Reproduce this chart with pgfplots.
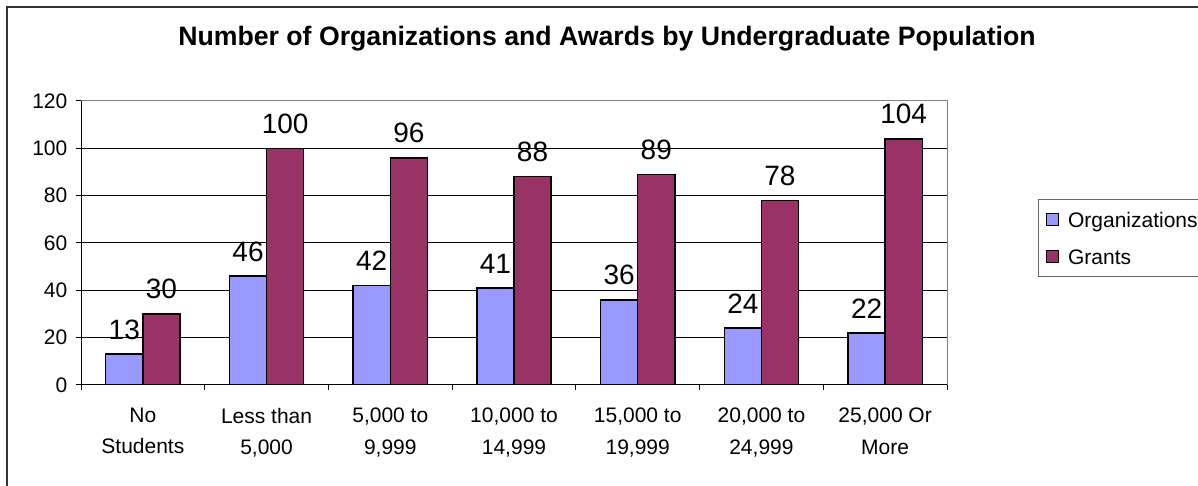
\documentclass[border=0pt]{standalone}
\usepackage{fontspec}
\setmainfont{Liberation Sans}
\usepackage{pgfplots}
\pgfplotsset{compat=1.18}
\definecolor{orgblue}{HTML}{9999FF}
\definecolor{grantred}{HTML}{993366}
\definecolor{frame}{HTML}{808080}

% 1 px of the reference = 0.75pt
\pgfplotsset{
  sqlegend/.style={legend image code/.code={
      \draw[##1, line width=0.75pt] (0pt,-4.5pt) rectangle (9pt,4.5pt);}},
}

\begin{document}
\begin{tikzpicture}
\useasboundingbox (0,0) rectangle (898.5pt,363.75pt);
\clip (0,0) rectangle (898.5pt,363.75pt);
\fill[white] (0,0) rectangle (898.5pt,363.75pt);
% outer chart frame (right and bottom edges fall outside the picture)
\draw[black!80, line width=1.2pt] (5.25pt,-20pt) -- (5.25pt,358.5pt) -- (920pt,358.5pt);

\node[anchor=base, font=\fontsize{20}{24}\selectfont\bfseries]
  at (455.25pt,329.25pt) {Number of Organizations and Awards by Undergraduate Population};

\begin{axis}[
  at={(60.75pt,75pt)}, anchor=south west,
  scale only axis, width=649.5pt, height=213pt,
  /pgf/number format/assume math mode=true,
  ybar, bar width=0.3,
  xmin=-0.5, xmax=6.5, ymin=0, ymax=120,
  ytick={0,20,...,120},
  xtick={-0.5,0.5,...,6.5},
  x tick label as interval,
  xticklabels={{No\\Students},{Less than\\5,000},{5,000 to\\9,999},
    {10,000 to\\14,999},{15,000 to\\19,999},{20,000 to\\24,999},{25,000 Or\\More}},
  xticklabel style={align=center, font=\fontsize{15.75}{23.5}\selectfont, yshift=-10pt},
  yticklabel style={font=\fontsize{15.75}{19}\selectfont, xshift=-3pt},
  xtick pos=bottom, ytick pos=left,
  tick align=outside, major tick length=3.75pt,
  tick style={black, line width=0.75pt},
  ymajorgrids, grid style={black, line width=0.75pt},
  axis line style={draw=frame, line width=0.75pt},
  nodes near coords,
  every node near coord/.append style={font=\fontsize{21}{25}\selectfont,
    black, inner sep=0pt, yshift=10.5pt},
  legend style={at={(1.105,0.655)}, anchor=north west,
    draw=black!60, line width=0.75pt,
    font=\fontsize{15.75}{18}\selectfont, legend cell align=left,
    inner xsep=6pt, inner ysep=7.5pt, row sep=12.5pt, column sep=4.5pt,
    nodes={text depth=0pt}},
]
\addplot[sqlegend, fill=orgblue, draw=black, line width=1.1pt, bar shift=-0.15]
  coordinates {(0,13) (1,46) (2,42) (3,41) (4,36) (5,24) (6,22)};
\addplot[sqlegend, fill=grantred, draw=black, line width=1.1pt, bar shift=0.15]
  coordinates {(0,30) (1,100) (2,96) (3,88) (4,89) (5,78) (6,104)};
\legend{Organizations\hspace*{12pt}, Grants}
\draw[frame, line width=0.75pt] (rel axis cs:0,1) -- (rel axis cs:1,1) -- (rel axis cs:1,0);
\draw[black, line width=0.75pt] (rel axis cs:0,1) -- (rel axis cs:0,0) -- (rel axis cs:1,0);
\end{axis}
\end{tikzpicture}
\end{document}
